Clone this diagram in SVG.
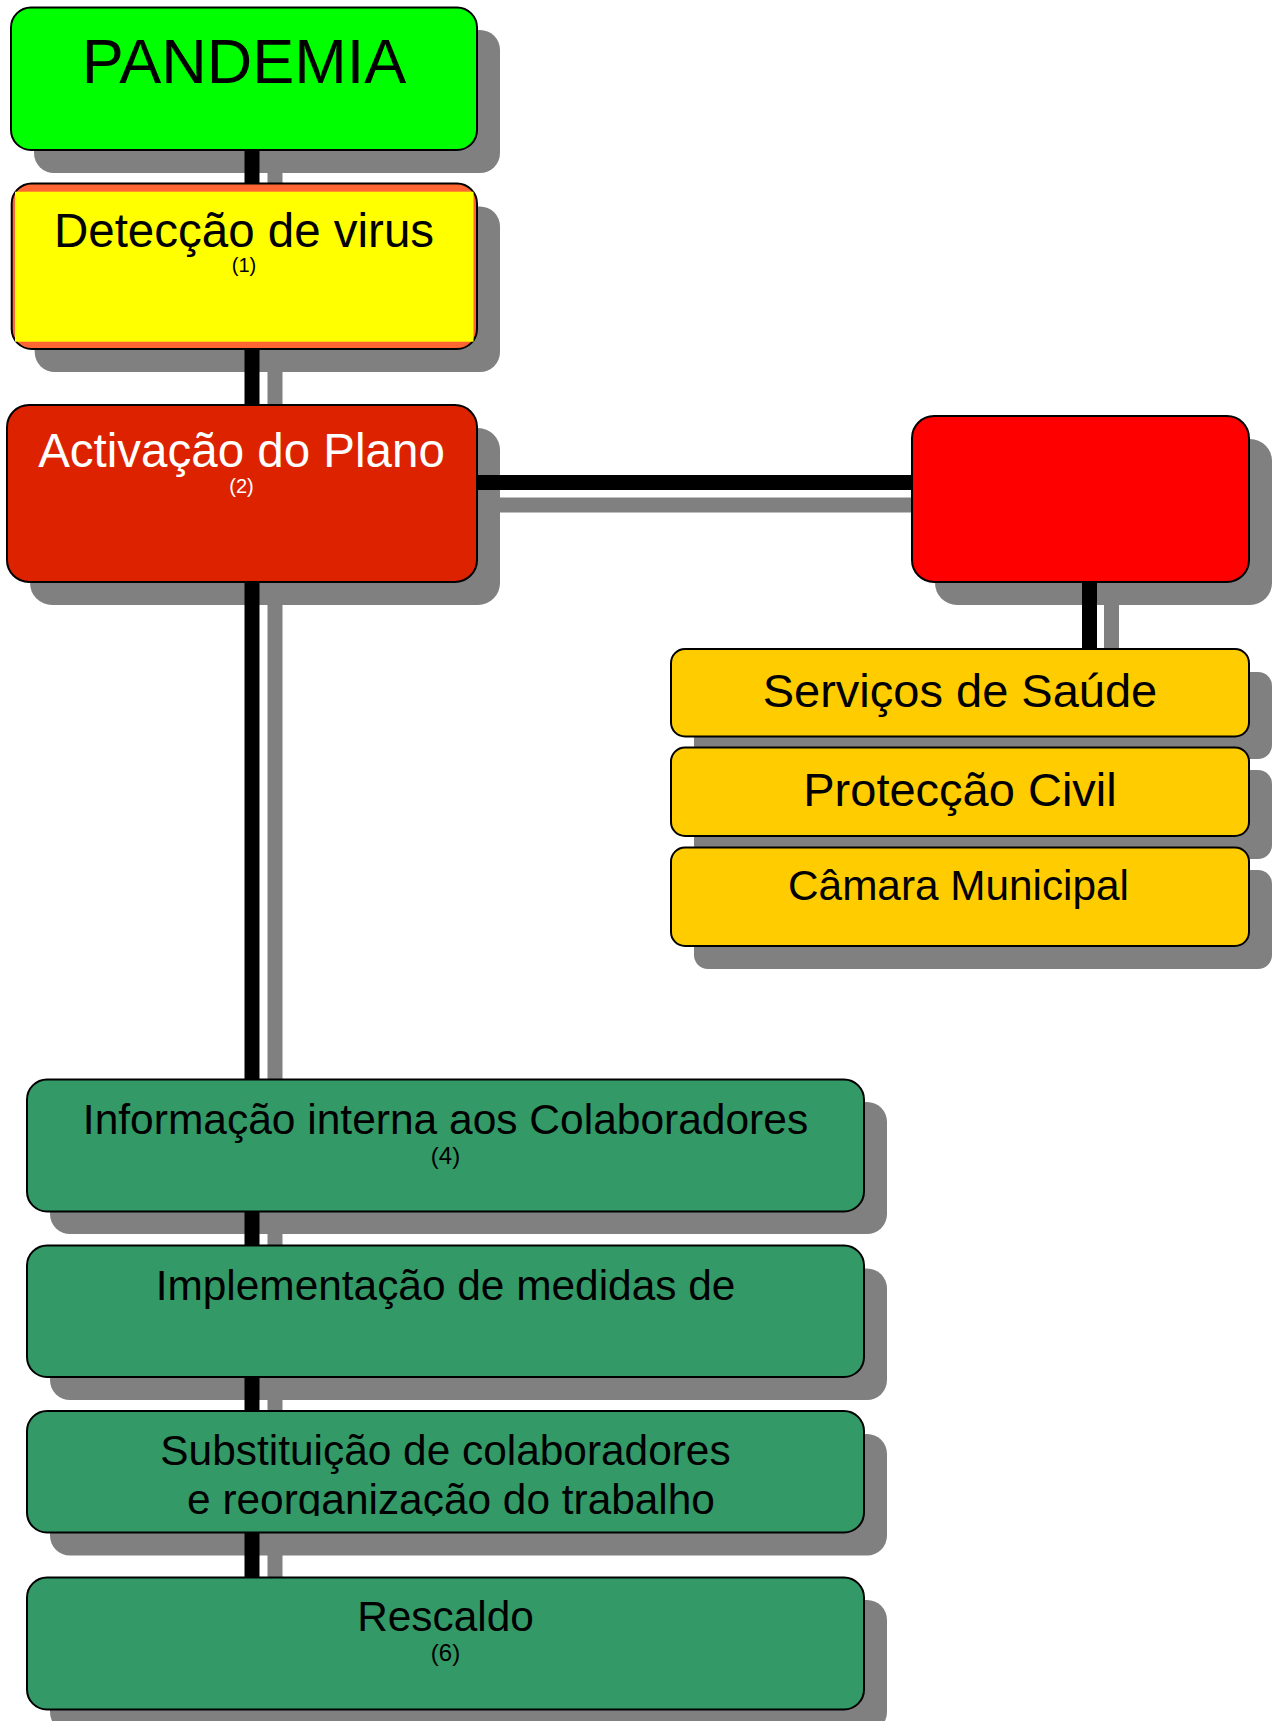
<svg xmlns="http://www.w3.org/2000/svg" width="1272" height="1721" viewBox="0 0 1272 1721">
<defs>
<style>
.sh{fill:#808080}
.box{stroke:#000;stroke-width:2}
.t{font-family:"Liberation Sans",Arial,sans-serif;text-anchor:middle;fill:#000}
.w{fill:#fff}
.lk{stroke:#000;stroke-width:15;fill:none}
.ls{stroke:#808080;stroke-width:15;fill:none}
</style>
<clipPath id="clipSub"><rect x="27" y="1411" width="837" height="105"/></clipPath>
</defs>
<rect width="1272" height="1721" fill="#fff"/>
<g id="connector-shadows">
<line class="ls" x1="275" y1="150" x2="275" y2="1600"/>
<line class="ls" x1="477" y1="505" x2="935" y2="505"/>
<line class="ls" x1="1111.5" y1="582" x2="1111.5" y2="672"/>
</g>
<g id="shadows">
<rect class="sh" x="34" y="30" width="466" height="143" rx="20"/>
<rect class="sh" x="34.7" y="206.5" width="465.3" height="165.5" rx="20"/>
<rect class="sh" x="30" y="428" width="470" height="177" rx="22"/>
<rect class="sh" x="935" y="439" width="337" height="166" rx="22"/>
<rect class="sh" x="694" y="672" width="578" height="87" rx="14"/>
<rect class="sh" x="694" y="770" width="578" height="89" rx="14"/>
<rect class="sh" x="694" y="870" width="578" height="99" rx="14"/>
<rect class="sh" x="50" y="1102" width="837" height="132" rx="20"/>
<rect class="sh" x="50" y="1268.5" width="837" height="131.5" rx="20"/>
<rect class="sh" x="50" y="1434" width="837" height="121.5" rx="20"/>
<rect class="sh" x="50" y="1600" width="837" height="132" rx="20"/>
</g>
<g id="connectors">
<line class="lk" x1="252" y1="140" x2="252" y2="1590"/>
<line class="lk" x1="470" y1="482.5" x2="920" y2="482.5"/>
<line class="lk" x1="1089.5" y1="575" x2="1089.5" y2="655"/>
</g>
<g id="node-pandemia">
<rect class="box" x="11" y="7.5" width="466" height="142.5" rx="20" fill="#00ff00"/>
<text class="t" x="244" y="82.5" font-size="63">PANDEMIA</text>
</g>
<g id="node-deteccao">
<rect class="box" x="11.7" y="183.5" width="465.3" height="165.5" rx="20" fill="#ff6633"/>
<rect x="15" y="191.7" width="458.5" height="150" fill="#ffff00"/>
<text class="t" x="244" y="246.5" font-size="47.5">Detecção de virus</text>
<text class="t" x="244" y="271.5" font-size="20">(1)</text>
</g>
<g id="node-activacao">
<rect class="box" x="7" y="405" width="470" height="177" rx="22" fill="#dd2200"/>
<text class="t w" x="241.5" y="467" font-size="47.5">Activação do Plano</text>
<text class="t w" x="241.5" y="493" font-size="20">(2)</text>
</g>
<g id="node-red">
<rect class="box" x="912" y="416" width="337" height="166" rx="22" fill="#ff0000"/>
</g>
<g id="node-servicos">
<rect class="box" x="671" y="649" width="578" height="87.5" rx="14" fill="#ffcc00"/>
<text class="t" x="960" y="706.5" font-size="47">Serviços de Saúde</text>
</g>
<g id="node-proteccao">
<rect class="box" x="671" y="747.5" width="578" height="88.5" rx="14" fill="#ffcc00"/>
<text class="t" x="960" y="805.5" font-size="47">Protecção Civil</text>
</g>
<g id="node-camara">
<rect class="box" x="671" y="847.5" width="578" height="98.5" rx="14" fill="#ffcc00"/>
<text class="t" x="958.5" y="900" font-size="42.3">Câmara Municipal</text>
</g>
<g id="node-informacao">
<rect class="box" x="27" y="1079.5" width="837" height="132" rx="20" fill="#339966"/>
<text class="t" x="445.5" y="1134" font-size="42.5">Informação interna aos Colaboradores</text>
<text class="t" x="445.5" y="1163.5" font-size="24">(4)</text>
</g>
<g id="node-implementacao">
<rect class="box" x="27" y="1245.5" width="837" height="131.5" rx="20" fill="#339966"/>
<text class="t" x="445.5" y="1300" font-size="42.4">Implementação de medidas de</text>
</g>
<g id="node-substituicao">
<rect class="box" x="27" y="1411" width="837" height="121.5" rx="20" fill="#339966"/>
<g clip-path="url(#clipSub)">
<text class="t" x="445.5" y="1465" font-size="42.4">Substituição de colaboradores</text>
<text class="t" x="451" y="1513.5" font-size="42.4">e reorganização do trabalho</text>
</g>
</g>
<g id="node-rescaldo">
<rect class="box" x="27" y="1577.5" width="837" height="132" rx="20" fill="#339966"/>
<text class="t" x="445.5" y="1630.5" font-size="42.4">Rescaldo</text>
<text class="t" x="445.5" y="1661" font-size="24">(6)</text>
</g>
</svg>
